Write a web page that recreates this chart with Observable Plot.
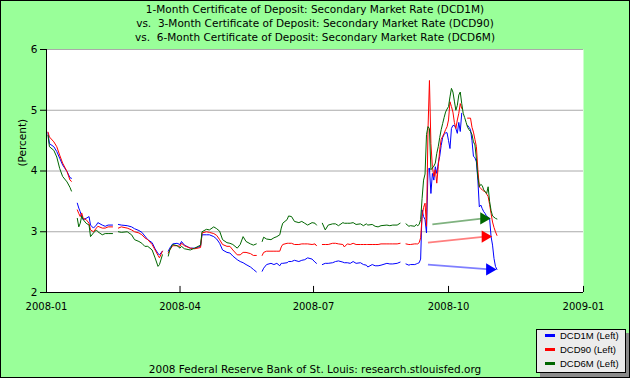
<!DOCTYPE html>
<html><head><meta charset="utf-8">
<script src="https://cdn.jsdelivr.net/npm/d3@7"></script>
<script src="https://cdn.jsdelivr.net/npm/@observablehq/plot@0.6"></script>
<style>
html,body{margin:0;padding:0;background:#fff;}
#chart{position:relative;width:630px;height:378px;background:#99ff99;overflow:hidden;font-family:"DejaVu Sans",sans-serif;color:#000;}
#frame{position:absolute;left:0;top:0;width:628px;height:376px;border:1px solid #000;pointer-events:none;}
#title{position:absolute;left:0;top:2px;width:630px;text-align:center;font-size:10.5px;line-height:14.2px;white-space:pre;}
#plot{position:absolute;left:0;top:0;}
#caption{position:absolute;left:0;width:630px;top:362px;text-align:center;font-size:10.5px;line-height:14px;}
#legend{position:absolute;left:536px;top:329px;width:88px;height:42px;background:#ececec;border:1px solid #000;box-shadow:4px 4px 0 #8a8a8a;font-size:9.5px;font-family:"Liberation Sans",sans-serif;}
.item{position:absolute;left:8px;height:14px;line-height:14px;white-space:nowrap;}
.swatch{display:inline-block;width:10px;height:3px;vertical-align:middle;margin-right:5px;}
</style></head><body>
<div id="chart">
  <div id="plot"></div>
  <div id="title"></div>
  <div id="caption"></div>
  <div id="legend"></div>
  <div id="frame"></div>
</div>
<script>
const titleLines = [
  "1-Month Certificate of Deposit: Secondary Market Rate (DCD1M)",
  "vs.  3-Month Certificate of Deposit: Secondary Market Rate (DCD90)",
  "vs.  6-Month Certificate of Deposit: Secondary Market Rate (DCD6M)"
];
const captionText = "2008 Federal Reserve Bank of St. Louis: research.stlouisfed.org";
const seriesNames = ["DCD1M (Left)", "DCD90 (Left)", "DCD6M (Left)"];
const seriesColors = ["#0000ff", "#ff0000", "#006600"];
const yTicks = [2, 3, 4, 5, 6];
const yGrid = [3, 4, 5, 6];
const xTicks = ["2008-01-01", "2008-04-01", "2008-07-01", "2008-10-01", "2009-01-01"];
const xDomain = ["2008-01-01", "2009-01-01"];

const dates = [
  "2008-01-02","2008-01-03","2008-01-06","2008-01-08","2008-01-10","2008-01-12","2008-01-15","2008-01-17","2008-01-18",
  "2008-01-20",
  "2008-01-22","2008-01-23","2008-01-24","2008-01-25","2008-01-26","2008-01-28","2008-01-30","2008-01-31","2008-02-02","2008-02-04","2008-02-05","2008-02-08","2008-02-10","2008-02-12","2008-02-15",
  "2008-02-17",
  "2008-02-19","2008-02-21","2008-02-25","2008-02-28","2008-03-01","2008-03-04","2008-03-06","2008-03-08","2008-03-10","2008-03-13","2008-03-15","2008-03-17","2008-03-18","2008-03-20",
  "2008-03-22",
  "2008-03-24","2008-03-25","2008-03-27","2008-03-30","2008-04-01","2008-04-02","2008-04-04","2008-04-08","2008-04-11","2008-04-15","2008-04-16","2008-04-19","2008-04-21","2008-04-24","2008-04-26","2008-04-28","2008-04-30","2008-05-03","2008-05-05","2008-05-07","2008-05-10","2008-05-12","2008-05-14","2008-05-16","2008-05-19","2008-05-21","2008-05-23",
  "2008-05-25",
  "2008-05-27","2008-05-28","2008-05-30","2008-06-02","2008-06-04","2008-06-06","2008-06-08","2008-06-09","2008-06-10","2008-06-13","2008-06-14","2008-06-16","2008-06-18","2008-06-21","2008-06-23","2008-06-25","2008-06-27","2008-06-30","2008-07-02","2008-07-03",
  "2008-07-05",
  "2008-07-07","2008-07-09","2008-07-11","2008-07-14","2008-07-16","2008-07-18","2008-07-21","2008-07-22","2008-07-24","2008-07-26","2008-07-28","2008-07-30","2008-08-02","2008-08-04","2008-08-06","2008-08-07","2008-08-10","2008-08-12","2008-08-14","2008-08-16","2008-08-20","2008-08-22","2008-08-24","2008-08-27","2008-08-29",
  "2008-09-01",
  "2008-09-02","2008-09-04","2008-09-05","2008-09-08","2008-09-09","2008-09-10","2008-09-11",
  "2008-09-12","2008-09-13","2008-09-14","2008-09-15","2008-09-16","2008-09-17","2008-09-18","2008-09-19","2008-09-20","2008-09-21","2008-09-22","2008-09-23","2008-09-24","2008-09-25","2008-09-26","2008-09-27","2008-09-28","2008-09-29","2008-09-30",
  "2008-10-01","2008-10-02","2008-10-03","2008-10-04","2008-10-05","2008-10-06","2008-10-07","2008-10-08","2008-10-09","2008-10-10","2008-10-11","2008-10-12","2008-10-13","2008-10-14","2008-10-15","2008-10-16","2008-10-17","2008-10-18","2008-10-19","2008-10-20","2008-10-21","2008-10-22","2008-10-23","2008-10-24","2008-10-25","2008-10-26","2008-10-27","2008-10-28","2008-10-29","2008-10-30","2008-10-31",
  "2008-11-01","2008-11-02","2008-11-03"
];

const dcd1m = [
  4.63,4.45,4.40,4.32,4.21,4.10,3.99,3.89,3.88,
  null,
  3.47,3.39,3.33,3.25,3.20,3.22,3.25,3.11,3.06,3.11,3.15,3.11,3.09,3.11,3.11,
  null,
  3.12,3.11,3.10,3.08,3.05,3.02,2.99,2.93,2.87,2.82,2.72,2.64,2.62,2.68,
  null,
  2.68,2.73,2.80,2.81,2.79,2.84,2.78,2.73,2.73,2.76,2.95,2.95,2.95,2.92,2.88,2.81,2.70,2.66,2.65,2.60,2.54,2.51,2.49,2.46,2.42,2.38,2.34,
  null,
  2.35,2.40,2.46,2.48,2.46,2.48,2.44,2.48,2.48,2.49,2.51,2.51,2.53,2.51,2.53,2.54,2.57,2.55,2.50,2.48,
  null,
  2.46,2.48,2.48,2.49,2.51,2.52,2.50,2.49,2.49,2.48,2.51,2.48,2.49,2.46,2.45,2.42,2.46,2.44,2.44,2.45,2.48,2.47,2.47,2.48,2.50,
  null,
  2.47,2.45,2.46,2.46,2.47,2.48,2.49,
  2.55,3.36,3.25,3.20,2.98,4.02,4.05,3.63,3.96,3.85,4.07,3.96,4.13,4.24,4.42,4.55,4.60,4.63,4.63,
  4.50,4.37,4.70,4.75,4.75,4.70,4.62,4.80,4.65,4.95,null,null,null,4.75,4.72,4.68,4.50,4.24,4.22,4.15,3.85,3.41,3.44,3.38,3.33,3.30,3.25,3.24,3.22,2.92,2.78,
  2.56,2.43,2.38
];

const dcd90 = [
  4.64,4.56,4.48,4.40,4.26,4.13,3.99,3.85,3.83,
  null,
  3.36,3.30,3.25,3.31,3.22,3.20,3.14,3.03,3.00,3.06,3.09,3.06,3.06,3.08,3.08,
  null,
  3.06,3.08,3.06,3.03,3.00,2.98,2.95,2.90,2.87,2.79,2.70,2.61,2.57,2.68,
  null,
  2.65,2.70,2.77,2.77,2.76,2.81,2.77,2.73,2.72,2.74,2.98,3.00,2.99,2.97,2.94,2.87,2.79,2.76,2.76,2.70,2.62,2.62,2.66,2.66,2.64,2.61,2.61,
  null,
  2.61,2.66,2.68,2.68,2.68,2.68,2.68,2.75,2.79,2.81,2.81,2.81,2.79,2.79,2.80,2.80,2.80,2.79,2.80,2.77,
  null,
  2.79,2.79,2.79,2.81,2.81,2.80,2.79,2.75,2.80,2.79,2.81,2.79,2.79,2.79,2.79,2.79,2.79,2.79,2.79,2.80,2.80,2.80,2.80,2.80,2.81,
  null,
  2.80,2.79,2.79,2.80,2.80,2.80,2.82,
  2.90,3.25,3.40,3.47,3.09,4.67,5.49,4.45,4.07,3.91,4.02,3.80,4.07,4.35,4.52,4.57,4.62,4.68,4.73,
  4.84,5.14,5.06,4.97,4.80,4.70,4.84,4.95,5.11,5.03,null,null,null,4.87,4.87,4.87,4.72,4.64,4.52,4.40,4.02,3.74,3.71,3.69,3.67,3.66,3.62,3.58,3.45,3.30,3.16,
  3.07,3.00,2.94
];

const dcd6m = [
  4.59,4.40,4.34,4.23,4.04,3.91,3.82,3.73,3.67,
  null,
  3.22,3.08,3.14,3.26,3.20,3.14,3.11,2.92,2.98,3.03,3.00,2.95,2.97,2.97,2.97,
  null,
  3.00,2.99,3.00,2.95,2.87,2.84,2.81,2.76,2.76,2.70,2.57,2.43,2.46,2.62,
  null,
  2.60,2.70,2.79,2.77,2.73,2.76,2.72,2.70,2.73,2.78,3.00,3.04,3.03,3.08,3.05,3.01,2.87,2.82,2.81,2.79,2.73,2.79,2.92,2.84,2.80,2.78,2.80,
  null,
  2.84,2.91,2.88,2.87,2.90,2.92,2.95,3.06,3.14,3.20,3.26,3.25,3.17,3.15,3.17,3.14,3.11,3.15,3.14,3.11,
  null,
  3.14,3.03,3.11,3.13,3.13,3.10,3.15,3.14,3.14,3.14,3.15,3.12,3.13,3.10,3.13,3.11,3.12,3.09,3.08,3.10,3.11,3.10,3.11,3.11,3.14,
  null,
  3.13,3.09,3.10,3.09,3.12,3.10,3.12,
  3.20,3.55,3.85,3.95,4.60,4.73,4.70,4.02,4.05,4.08,4.13,4.29,4.40,4.55,4.68,4.78,4.88,4.97,5.02,
  5.06,5.22,5.36,5.30,5.15,5.00,5.08,5.25,5.30,5.11,4.95,4.88,4.80,4.72,4.68,4.65,4.60,4.48,4.43,4.20,3.90,3.74,3.78,3.76,3.69,3.66,3.63,3.74,3.50,3.35,3.26,
  3.24,3.22,3.21
];

// annotation arrows (start date/value -> end date/value)
const arrowStart = ["2008-09-17", "2008-09-17", "2008-09-20"];
const arrowStartVal = [2.46, 2.82, 3.12];
const arrowEnd = ["2008-10-29", "2008-10-26", "2008-10-25"];
const arrowEndVal = [2.38, 2.92, 3.22];

if (dcd1m.length !== dates.length || dcd90.length !== dates.length || dcd6m.length !== dates.length) {
  throw new Error(`length mismatch ${dates.length} ${dcd1m.length} ${dcd90.length} ${dcd6m.length}`);
}

const rows = dates.map((d, i) => ({date: new Date(d), v1: dcd1m[i], v90: dcd90[i], v6m: dcd6m[i]}));
const arrows = arrowStart.map((d, i) => ({
  x1: new Date(d), y1: arrowStartVal[i], x2: new Date(arrowEnd[i]), y2: arrowEndVal[i], color: seriesColors[i]
}));

document.getElementById("title").textContent = titleLines.join("\n");
document.getElementById("caption").textContent = captionText;
const legend = document.getElementById("legend");
seriesNames.forEach((name, i) => {
  const item = document.createElement("div");
  item.className = "item";
  item.style.top = (-1.5 + i * 14) + "px";
  const sw = document.createElement("span");
  sw.className = "swatch";
  sw.style.background = seriesColors[i];
  item.appendChild(sw);
  item.appendChild(document.createTextNode(name));
  legend.appendChild(item);
});

const fmt = d3.utcFormat("%Y-%m");
const plot = Plot.plot({
  width: 630,
  height: 330,
  marginLeft: 46,
  marginRight: 47,
  marginTop: 49,
  marginBottom: 38,
  style: {background: "transparent", fontFamily: "DejaVu Sans, sans-serif", fontSize: "10px", color: "#000", overflow: "visible"},
  x: {type: "utc", domain: xDomain.map(d => new Date(d))},
  y: {domain: [yTicks[0], yTicks[yTicks.length - 1]]},
  marks: [
    Plot.frame({fill: "white", stroke: null}),
    Plot.ruleY(yGrid, {stroke: "#aaaaaa", strokeWidth: 1}),
    Plot.line(rows, {x: "date", y: "v1", stroke: seriesColors[0], strokeWidth: 1}),
    Plot.line(rows, {x: "date", y: "v90", stroke: seriesColors[1], strokeWidth: 1}),
    Plot.line(rows, {x: "date", y: "v6m", stroke: seriesColors[2], strokeWidth: 1}),
    Plot.link(arrows, {x1: "x1", y1: "y1", x2: "x2", y2: "y2", stroke: "color", strokeWidth: 1.8, strokeOpacity: 0.5}),
    Plot.dot(arrows, {x: "x2", y: "y2", fill: "color", symbol: "triangle", rotate: 90, r: 4.5, stroke: null}),
    Plot.ruleX([new Date(xTicks[0])], {stroke: "#000"}),
    Plot.ruleY([yTicks[0]], {stroke: "#000"}),
    Plot.ruleX(xTicks.slice(1).map(d => new Date(d)), {y1: yTicks[0], y2: yTicks[0] + 0.1, stroke: "#000"}),
    Plot.axisY({ticks: yTicks, tickSize: 6, tickPadding: 3, label: null, tickFormat: d => String(d), fontSize: 10.5}),
    Plot.axisX({ticks: xTicks.map(d => new Date(d)), tickSize: 0, tickPadding: 10, tickFormat: fmt, label: null, fontSize: 10}),
    Plot.text(["(Percent)"], {frameAnchor: "left", rotate: -90, dx: -24, dy: -4.5, fontSize: 10.5})
  ]
});
document.getElementById("plot").appendChild(plot);
</script>
</body></html>
